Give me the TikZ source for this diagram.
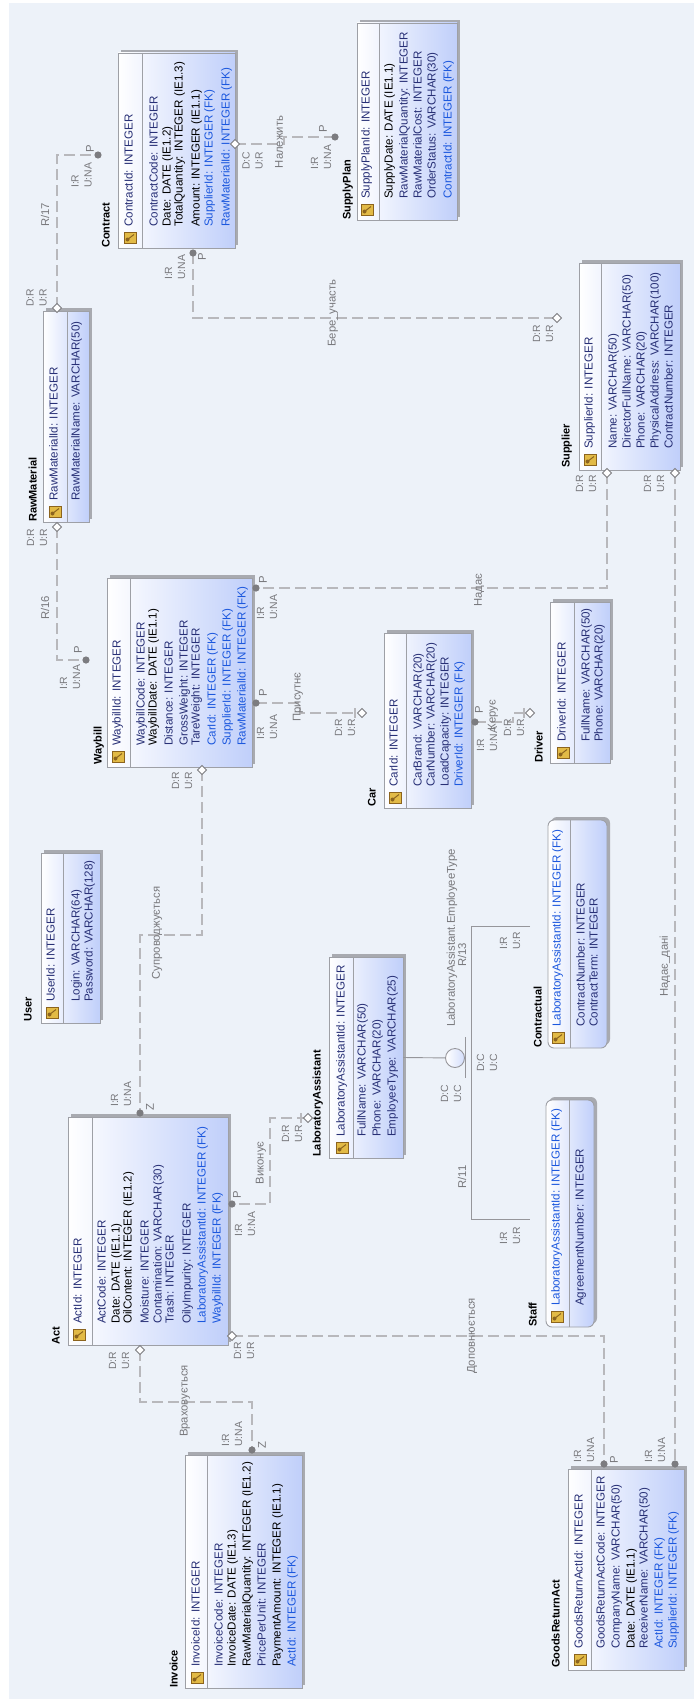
\documentclass[tikz,border=0pt]{standalone}
\usepackage{fontspec}
\setmainfont{Liberation Sans}
\usetikzlibrary{calc}
\definecolor{bgc}{RGB}{237,242,249}
\definecolor{boxborder}{RGB}{158,160,166}
\definecolor{shadowc}{RGB}{168,170,176}
\definecolor{boxblue}{RGB}{192,207,250}
\definecolor{navy}{RGB}{40,48,118}
\definecolor{fkblue}{RGB}{28,88,222}
\definecolor{relc}{RGB}{184,184,188}
\definecolor{lblc}{RGB}{120,120,124}
\definecolor{dotc}{RGB}{124,124,128}
\definecolor{subc}{RGB}{150,150,155}
\definecolor{keyg}{RGB}{226,186,70}
\definecolor{keyb}{RGB}{140,100,30}
\newcounter{tn}
\newcommand\eAtt[4]{\stepcounter{tn}\node[attr,text=#3] (t\arabic{tn}) at (#1,#2) {#4};}
\newcommand\eTtl[3]{\stepcounter{tn}\node[ttlst] (t\arabic{tn}) at (#1,#2) {#3};}
\newcommand\eRl[3]{\stepcounter{tn}\node[rlab] (t\arabic{tn}) at (#1,#2) {#3};}
\newcommand\eCl[3]{\stepcounter{tn}\node[clab] (t\arabic{tn}) at (#1,#2) {#3};}
\newcommand\eKey[2]{%
  \fill[keyg] (#1-6,#2-5.5) rectangle (#1+6,#2+5.5);
  \draw[keyb, line width=0.5pt] (#1-6,#2-5.5) rectangle (#1+6,#2+5.5);
  \fill[keyb] (#1-2.5,#2+2) circle (2);
  \draw[keyb, line width=1pt] (#1-2.5,#2+2) -- (#1+4,#2-3);}
\newcommand\eEnt[7][]{%
  \fill[shadowc,#1] (#3+3,#4-3) rectangle (#5+3,#6-3);
  \node[ebox,#1,minimum width={(#5-#3)*1pt},minimum height={(#6-#4)*1pt}] (#2) at ({(#3+#5)/2},{(#4+#6)/2}) {};
  \draw[boxborder, line width=0.9pt] (#7,#4) -- (#7,#6);}
\newcommand\eDiam[1]{\draw[draw=dotc, fill=white, line width=0.8pt] ($(#1)+(-4.5,0)$) -- ($(#1)+(0,-4.5)$) -- ($(#1)+(4.5,0)$) -- ($(#1)+(0,4.5)$) -- cycle;}
\newcommand\eDot[1]{\fill[dotc] (#1) circle (3.6);}
\begin{document}
\begin{tikzpicture}[x=1pt,y=-1pt,
  attr/.style={rotate=90, anchor=mid west, inner sep=0, font=\fontsize{11.6}{13}\selectfont},
  ttlst/.style={rotate=90, anchor=mid west, inner sep=0, font=\bfseries\fontsize{11}{13}\selectfont},
  rlab/.style={rotate=90, inner sep=0, text=lblc, font=\fontsize{11.3}{13}\selectfont},
  clab/.style={rotate=90, anchor=west, inner sep=0, align=left, text=lblc, font=\fontsize{10.4}{13}\selectfont},
  ebox/.style={draw=boxborder, line width=0.9pt, left color=white, right color=boxblue, inner sep=0, outer sep=0},
  rel/.style={draw=relc, line width=1.6pt, dash pattern=on 11pt off 5pt},
  sub/.style={draw=subc, line width=0.9pt},
  tickst/.style={draw=relc, line width=1.2pt}]
\useasboundingbox (0,0) rectangle (694,1699);
\fill[white] (0,0) rectangle (694,1699);
\fill[bgc] (9,3) rectangle (694,1699);

% ---------- connectors ----------
\coordinate (d17) at (57,308); \coordinate (p17) at (98,155);
\draw[rel] (d17) |- (p17);
\coordinate (dbel) at (235,144); \coordinate (pbel) at (335,137);
\draw[rel] (dbel) -- (284,144) -- (284,137) -- (pbel);
\coordinate (pbere) at (193,253); \coordinate (dbere) at (557,318);
\draw[rel] (pbere) |- (dbere);
\coordinate (dnad) at (607,473); \coordinate (pnad) at (256,588);
\draw[rel] (dnad) |- (pnad);
\coordinate (dnd) at (675,473); \coordinate (pnd) at (675,1464);
\draw[rel] (dnd) -- (pnd);
\coordinate (d16) at (57,527); \coordinate (p16) at (86,660);
\draw[rel] (d16) |- (p16);
\coordinate (pcar) at (256,703); \coordinate (dcar) at (362,713);
\draw[rel] (pcar) -- (300,703) -- (300,713) -- (dcar);
\coordinate (pker) at (475,722); \coordinate (dker) at (530,713);
\draw[rel] (pker) -- (513,722) -- (513,713) -- (dker);
\coordinate (dsup) at (202,770); \coordinate (psup) at (140,1113);
\draw[rel] (dsup) -- (202,935) -- (140,935) -- (psup);
\coordinate (dvyk) at (308,1118); \coordinate (pvyk) at (232,1204);
\draw[rel] (dvyk) -- (270,1118) -- (270,1204) -- (pvyk);
\coordinate (dvrah) at (140,1350); \coordinate (pvrah) at (252,1450);
\draw[rel] (dvrah) -- (140,1402) -- (252,1402) -- (pvrah);
\coordinate (ddop) at (232,1336); \coordinate (pdop) at (604,1464);
\draw[rel] (ddop) -| (pdop);
\draw[tickst] (355,708) -- (355,718);
\draw[tickst] (524,708) -- (524,718);
\draw[tickst] (301,1113) -- (301,1123);

% ---------- entities ----------
\eEnt{contract}{118}{53}{235}{248}{142}
\eKey{130}{237.5}
\eAtt{130}{227}{navy}{ContractId: INTEGER}
\eAtt{155}{227}{navy}{ContractCode: INTEGER}
\eAtt{168}{227}{black}{Date: DATE (IE1.2)}
\eAtt{180}{227}{black}{TotalQuantity: INTEGER (IE1.3)}
\eAtt{197}{227}{black}{Amount: INTEGER (IE1.1)}
\eAtt{210}{227}{fkblue}{SupplierId: INTEGER (FK)}
\eAtt{227}{227}{fkblue}{RawMaterialId: INTEGER (FK)}
\eTtl{107}{248}{Contract}

\eEnt{supplyplan}{357}{23}{457}{220}{379}
\eKey{367}{209.5}
\eAtt{367}{199}{navy}{SupplyPlanId: INTEGER}
\eAtt{390}{199}{black}{SupplyDate: DATE (IE1.1)}
\eAtt{405}{199}{navy}{RawMaterialQuantity: INTEGER}
\eAtt{419}{199}{navy}{RawMaterialCost: INTEGER}
\eAtt{433}{199}{navy}{OrderStatus: VARCHAR(30)}
\eAtt{449}{199}{fkblue}{ContractId: INTEGER (FK)}
\eTtl{348}{220}{SupplyPlan}

\eEnt{rawmaterial}{43}{311}{89}{522}{67}
\eKey{55}{511.5}
\eAtt{55}{501}{navy}{RawMaterialId: INTEGER}
\eAtt{77}{501}{navy}{RawMaterialName: VARCHAR(50)}
\eTtl{34}{522}{RawMaterial}

\eEnt{supplier}{579}{263}{680}{470}{601}
\eKey{590}{459.5}
\eAtt{590}{449}{navy}{SupplierId: INTEGER}
\eAtt{614}{449}{navy}{Name: VARCHAR(50)}
\eAtt{628}{449}{navy}{DirectorFullName: VARCHAR(50)}
\eAtt{642}{449}{navy}{Phone: VARCHAR(20)}
\eAtt{656}{449}{navy}{PhysicalAddress: VARCHAR(100)}
\eAtt{670}{449}{navy}{ContractNumber: INTEGER}
\eTtl{567}{468}{Supplier}

\eEnt{waybill}{107}{578}{252}{767}{130}
\eKey{118}{756.5}
\eAtt{118}{746}{navy}{WaybillId: INTEGER}
\eAtt{142}{746}{navy}{WaybillCode: INTEGER}
\eAtt{154}{746}{black}{WaybillDate: DATE (IE1.1)}
\eAtt{170}{746}{navy}{Distance: INTEGER}
\eAtt{185}{746}{navy}{GrossWeight: INTEGER}
\eAtt{197}{746}{navy}{TareWeight: INTEGER}
\eAtt{213}{746}{fkblue}{CarId: INTEGER (FK)}
\eAtt{228}{746}{fkblue}{SupplierId: INTEGER (FK)}
\eAtt{243}{746}{fkblue}{RawMaterialId: INTEGER (FK)}
\eTtl{99}{765}{Waybill}

\eEnt{car}{384}{633}{471}{808}{406}
\eKey{395}{797.5}
\eAtt{395}{787}{navy}{CarId: INTEGER}
\eAtt{419}{787}{navy}{CarBrand: VARCHAR(20)}
\eAtt{432}{787}{navy}{CarNumber: VARCHAR(20)}
\eAtt{446}{787}{navy}{LoadCapacity: INTEGER}
\eAtt{460}{787}{fkblue}{DriverId: INTEGER (FK)}
\eTtl{373}{807}{Car}

\eEnt{driver}{550}{602}{610}{763}{574}
\eKey{563}{752.5}
\eAtt{563}{742}{navy}{DriverId: INTEGER}
\eAtt{587}{742}{navy}{FullName: VARCHAR(50)}
\eAtt{600}{742}{navy}{Phone: VARCHAR(20)}
\eTtl{540}{763}{Driver}

\eEnt{user}{41}{853}{100}{1023}{63}
\eKey{52}{1012.5}
\eAtt{52}{1002}{navy}{UserId: INTEGER}
\eAtt{77}{1002}{navy}{Login: VARCHAR(64)}
\eAtt{90}{1002}{navy}{Password: VARCHAR(128)}
\eTtl{29}{1022}{User}

\eEnt{act}{68}{1117}{228}{1345}{92}
\eKey{79}{1334.5}
\eAtt{79}{1324}{navy}{ActId: INTEGER}
\eAtt{103}{1324}{navy}{ActCode: INTEGER}
\eAtt{117}{1324}{black}{Date: DATE (IE1.1)}
\eAtt{129}{1324}{black}{OilContent: INTEGER (IE1.2)}
\eAtt{146}{1324}{navy}{Moisture: INTEGER}
\eAtt{159}{1324}{navy}{Contamination: VARCHAR(30)}
\eAtt{171}{1324}{navy}{Trash: INTEGER}
\eAtt{188}{1324}{navy}{OilyImpurity: INTEGER}
\eAtt{203}{1324}{fkblue}{LaboratoryAssistantId: INTEGER (FK)}
\eAtt{218}{1324}{fkblue}{WaybillId: INTEGER (FK)}
\eTtl{57}{1345}{Act}

\eEnt{labasst}{329}{957}{403}{1158}{353}
\eKey{342}{1147.5}
\eAtt{342}{1137}{navy}{LaboratoryAssistantId: INTEGER}
\eAtt{363}{1137}{navy}{FullName: VARCHAR(50)}
\eAtt{378}{1137}{navy}{Phone: VARCHAR(20)}
\eAtt{393}{1137}{navy}{EmployeeType: VARCHAR(25)}
\eTtl{318}{1157}{LaboratoryAssistant}

\eEnt[rounded corners=6pt]{contractual}{548}{820}{607}{1048}{570}
\eKey{558}{1037.5}
\eAtt{558}{1027}{fkblue}{LaboratoryAssistantId: INTEGER (FK)}
\eAtt{582}{1027}{navy}{ContractNumber: INTEGER}
\eAtt{595}{1027}{navy}{ContractTerm: INTEGER}
\eTtl{539}{1048}{Contractual}

\eEnt[rounded corners=6pt]{staff}{546}{1100}{594}{1327}{569}
\eKey{557}{1316.5}
\eAtt{557}{1306}{fkblue}{LaboratoryAssistantId: INTEGER (FK)}
\eAtt{581}{1306}{navy}{AgreementNumber: INTEGER}
\eTtl{534}{1327}{Staff}

\eEnt{invoice}{185}{1455}{302}{1688}{207}
\eKey{197}{1677.5}
\eAtt{197}{1667}{navy}{InvoiceId: INTEGER}
\eAtt{220}{1667}{navy}{InvoiceCode: INTEGER}
\eAtt{233}{1667}{black}{InvoiceDate: DATE (IE1.3)}
\eAtt{248}{1667}{black}{RawMaterialQuantity: INTEGER (IE1.2)}
\eAtt{263}{1667}{navy}{PricePerUnit: INTEGER}
\eAtt{278}{1667}{black}{PaymentAmount: INTEGER (IE1.1)}
\eAtt{293}{1667}{fkblue}{ActId: INTEGER (FK)}
\eTtl{175}{1688}{Invoice}

\eEnt{goodsreturnact}{568}{1469}{684}{1670}{591}
\eKey{580}{1659.5}
\eAtt{580}{1649}{navy}{GoodsReturnActId: INTEGER}
\eAtt{602}{1649}{navy}{GoodsReturnActCode: INTEGER}
\eAtt{617}{1649}{navy}{CompanyName: VARCHAR(50)}
\eAtt{632}{1649}{black}{Date: DATE (IE1.1)}
\eAtt{645}{1649}{navy}{ReceiverName: VARCHAR(50)}
\eAtt{660}{1649}{fkblue}{ActId: INTEGER (FK)}
\eAtt{674}{1649}{fkblue}{SupplierId: INTEGER (FK)}
\eTtl{557}{1668}{GoodsReturnAct}

% ---------- subtype ----------
\coordinate (sc) at (455,1058);
\coordinate (sct) at (530,926); \coordinate (scb) at (530,1219);
\draw[sub] (labasst.east) -- (sc);
\draw[sub, left color=white, right color=boxblue!70] (sc) circle (9.5);
\draw[sub] (465,1037) -- (465,1078);
\draw[sub] (sct) -- (471,926) -- (471,1219) -- (scb);

% ---------- markers ----------
\eDiam{d17} \eDot{p17}
\eDiam{dbel} \eDot{pbel}
\eDiam{dbere} \eDot{pbere}
\eDiam{dnad} \eDot{pnad}
\eDiam{dnd} \eDot{pnd}
\eDiam{d16} \eDot{p16}
\eDiam{dcar} \eDot{pcar}
\eDiam{dker} \eDot{pker}
\eDiam{dsup} \eDot{psup}
\eDiam{dvyk} \eDot{pvyk}
\eDiam{dvrah} \eDot{pvrah}
\eDiam{ddop} \eDot{pdop}

% ---------- relationship labels ----------
\eRl{45}{215}{R/17}
\eCl{36.5}{307}{D:R\\U:R}
\eCl{81.5}{188}{I:R\\U:NA}
\eRl{90}{149}{P}

\eCl{252.5}{170}{D:C\\U:R}
\eRl{279}{142}{Належить}
\eCl{321}{170}{I:R\\U:NA}
\eRl{323}{129}{P}

\eRl{202}{257}{P}
\eCl{175}{280}{I:R\\U:NA}
\eRl{333}{313}{Бере\_участь}
\eCl{543}{343}{D:R\\U:R}

\eCl{586}{493}{D:R\\U:R}
\eRl{479}{590}{Надає}
\eRl{263}{580}{P}
\eCl{267}{620}{I:R\\U:NA}

\eCl{654}{493}{D:R\\U:R}
\eRl{665}{966}{Надає\_дані}
\eCl{655}{1463}{I:R\\U:NA}

\eCl{37}{547}{D:R\\U:R}
\eRl{45}{608}{R/16}
\eCl{70}{690}{I:R\\U:NA}
\eRl{78}{650}{P}

\eRl{263}{693}{P}
\eCl{267}{740}{I:R\\U:NA}
\eRl{298}{697}{Присутнє}
\eCl{345}{737}{D:R\\U:R}

\eRl{479}{710}{P}
\eCl{487}{752}{I:R\\U:NA}
\eRl{493}{715}{Керує}
\eCl{514}{737}{D:R\\U:R}

\eCl{182}{790}{D:R\\U:R}
\eRl{157}{933}{Супроводжується}
\eCl{121}{1107}{I:R\\U:NA}
\eRl{150}{1107}{Z}

\eCl{292}{1143}{D:R\\U:R}
\eRl{261}{1163}{Виконує}
\eRl{237}{1195}{P}
\eCl{245}{1237}{I:R\\U:NA}

\eCl{119}{1370}{D:R\\U:R}
\eRl{185}{1401}{Враховується}
\eCl{232}{1447}{I:R\\U:NA}
\eRl{262}{1445}{Z}

\eCl{244}{1360}{D:R\\U:R}
\eRl{472}{1336}{Доповнюється}
\eCl{584}{1463}{I:R\\U:NA}
\eRl{614}{1460}{P}

\eCl{451}{1103}{D:C\\U:C}
\eCl{487}{1072}{D:C\\U:C}
\eRl{452}{938}{LaboratoryAssistant.EmployeeType}
\eRl{462}{955}{R/13}
\eRl{462}{1177}{R/11}
\eCl{510}{950}{I:R\\U:R}
\eCl{510}{1245}{I:R\\U:R}
\end{tikzpicture}
\end{document}
